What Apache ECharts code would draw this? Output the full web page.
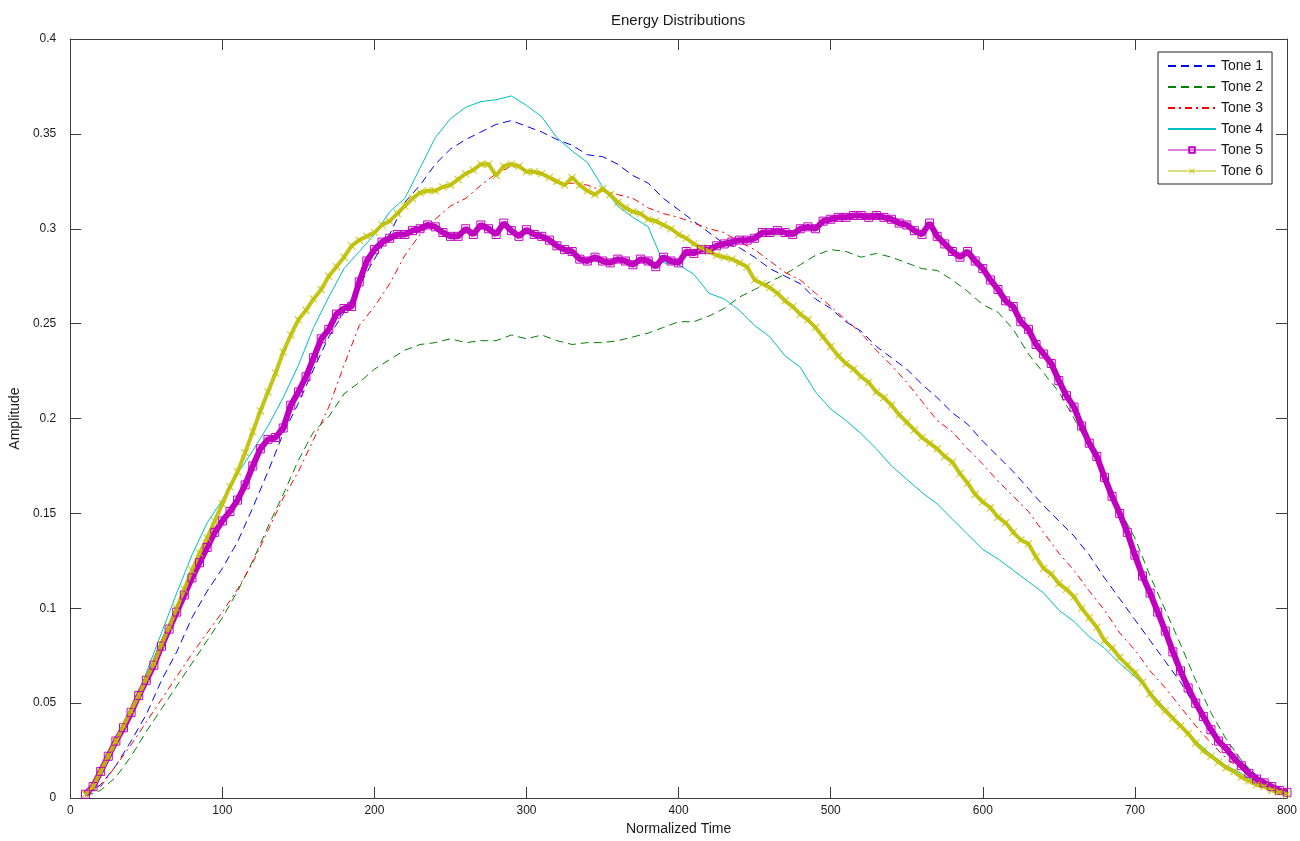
<!DOCTYPE html>
<html>
<head>
<meta charset="utf-8">
<title>Energy Distributions</title>
<script src="https://cdn.jsdelivr.net/npm/echarts@6/dist/echarts.min.js"></script>
<style>
  html, body { margin: 0; padding: 0; background: #ffffff; }
  #chart { width: 1300px; height: 841px; }
</style>
</head>
<body>
<div id="chart"></div>
<script>
// ---- data -------------------------------------------------------------
const seriesNames = ['Tone 1', 'Tone 2', 'Tone 3', 'Tone 4', 'Tone 5', 'Tone 6'];

// sample positions (normalized time): smooth tones every 10, marked tones every 5
const timeCoarse = [];
for (let t = 10; t <= 800; t += 10) timeCoarse.push(t);
const timeFine = [];
for (let t = 10; t <= 800; t += 5) timeFine.push(t);

// Tones 1-4 at timeCoarse
const tone1 = [
  0.002, 0.007, 0.017, 0.030, 0.044, 0.062, 0.077, 0.095, 0.109, 0.121,
  0.135, 0.153, 0.172, 0.192, 0.208, 0.226, 0.243, 0.256, 0.270, 0.284,
  0.297, 0.314, 0.323, 0.334, 0.342, 0.347, 0.351, 0.355, 0.357, 0.354,
  0.351, 0.347, 0.344, 0.339, 0.338, 0.334, 0.328, 0.324, 0.316, 0.310,
  0.304, 0.298, 0.292, 0.290, 0.285, 0.279, 0.275, 0.271, 0.263, 0.258,
  0.251, 0.246, 0.238, 0.232, 0.226, 0.218, 0.211, 0.203, 0.197, 0.188,
  0.180, 0.172, 0.163, 0.154, 0.146, 0.138, 0.128, 0.116, 0.105, 0.094,
  0.083, 0.072, 0.061, 0.048, 0.036, 0.027, 0.019, 0.012, 0.007, 0.003
];
const tone2 = [
  0.001, 0.004, 0.011, 0.022, 0.035, 0.047, 0.059, 0.071, 0.083, 0.095,
  0.109, 0.125, 0.143, 0.160, 0.178, 0.193, 0.201, 0.213, 0.219, 0.226,
  0.231, 0.236, 0.239, 0.240, 0.242, 0.240, 0.241, 0.241, 0.244, 0.242,
  0.244, 0.241, 0.239, 0.240, 0.240, 0.241, 0.243, 0.245, 0.248, 0.251,
  0.251, 0.254, 0.258, 0.264, 0.268, 0.272, 0.276, 0.281, 0.286, 0.289,
  0.288, 0.285, 0.287, 0.285, 0.282, 0.279, 0.278, 0.273, 0.267, 0.260,
  0.256, 0.247, 0.234, 0.224, 0.214, 0.200, 0.185, 0.169, 0.152, 0.137,
  0.117, 0.099, 0.081, 0.062, 0.045, 0.031, 0.020, 0.011, 0.006, 0.003
];
const tone3 = [
  0.001, 0.006, 0.017, 0.028, 0.040, 0.052, 0.064, 0.076, 0.087, 0.098,
  0.110, 0.124, 0.141, 0.158, 0.172, 0.189, 0.206, 0.228, 0.249, 0.259,
  0.271, 0.286, 0.297, 0.305, 0.312, 0.316, 0.323, 0.329, 0.333, 0.331,
  0.329, 0.324, 0.324, 0.323, 0.320, 0.318, 0.316, 0.311, 0.308, 0.306,
  0.303, 0.300, 0.298, 0.293, 0.289, 0.283, 0.277, 0.273, 0.266, 0.259,
  0.252, 0.245, 0.236, 0.228, 0.219, 0.209, 0.199, 0.193, 0.184, 0.176,
  0.167, 0.159, 0.151, 0.140, 0.129, 0.120, 0.109, 0.099, 0.087, 0.078,
  0.067, 0.058, 0.048, 0.038, 0.029, 0.021, 0.015, 0.009, 0.005, 0.003
];
const tone4 = [
  0.002, 0.012, 0.027, 0.045, 0.066, 0.087, 0.108, 0.128, 0.145, 0.157,
  0.171, 0.183, 0.196, 0.211, 0.228, 0.248, 0.264, 0.279, 0.288, 0.297,
  0.309, 0.316, 0.332, 0.348, 0.358, 0.364, 0.367, 0.368, 0.370, 0.365,
  0.359, 0.348, 0.341, 0.335, 0.322, 0.312, 0.306, 0.301, 0.282, 0.281,
  0.276, 0.266, 0.263, 0.257, 0.249, 0.243, 0.233, 0.227, 0.214, 0.205,
  0.199, 0.192, 0.184, 0.175, 0.168, 0.161, 0.155, 0.147, 0.139, 0.131,
  0.126, 0.120, 0.114, 0.108, 0.099, 0.093, 0.085, 0.079, 0.071, 0.064,
  0.056, 0.047, 0.038, 0.030, 0.023, 0.017, 0.013, 0.008, 0.005, 0.003
];

// Tones 5-6 at timeFine
const tone5 = [
  0.002, 0.006, 0.014, 0.022, 0.030, 0.037, 0.045, 0.054, 0.062, 0.070,
  0.080, 0.089, 0.098, 0.107, 0.116, 0.124, 0.132, 0.140, 0.146, 0.151,
  0.157, 0.165, 0.175, 0.184, 0.189, 0.190, 0.195, 0.207, 0.214, 0.222,
  0.232, 0.242, 0.247, 0.255, 0.258, 0.259, 0.272, 0.283, 0.289, 0.293,
  0.295, 0.297, 0.297, 0.299, 0.300, 0.302, 0.301, 0.298, 0.296, 0.296,
  0.300, 0.297, 0.302, 0.300, 0.297, 0.303, 0.299, 0.296, 0.2995, 0.297,
  0.296, 0.294, 0.291, 0.289, 0.288, 0.284, 0.283, 0.285, 0.283, 0.282,
  0.284, 0.283, 0.281, 0.284, 0.283, 0.280, 0.285, 0.283, 0.282, 0.288,
  0.287, 0.289, 0.289, 0.291, 0.292, 0.293, 0.294, 0.294, 0.295, 0.298,
  0.298, 0.299, 0.298, 0.297, 0.300, 0.301, 0.300, 0.304, 0.305, 0.306,
  0.306, 0.307, 0.307, 0.306, 0.307, 0.306, 0.305, 0.303, 0.302, 0.299,
  0.297, 0.303, 0.296, 0.292, 0.288, 0.285, 0.288, 0.283, 0.279, 0.273,
  0.268, 0.262, 0.259, 0.251, 0.247, 0.239, 0.234, 0.229, 0.220, 0.212,
  0.206, 0.196, 0.187, 0.180, 0.169, 0.159, 0.150, 0.140, 0.128, 0.117,
  0.108, 0.098, 0.088, 0.077, 0.067, 0.058, 0.050, 0.043, 0.036, 0.030,
  0.026, 0.021, 0.017, 0.013, 0.010, 0.008, 0.006, 0.004, 0.003
];
const tone6 = [
  0.002, 0.006, 0.014, 0.022, 0.030, 0.038, 0.046, 0.054, 0.063, 0.071,
  0.081, 0.090, 0.100, 0.110, 0.120, 0.129, 0.137, 0.146, 0.155, 0.164,
  0.172, 0.182, 0.193, 0.204, 0.214, 0.224, 0.235, 0.244, 0.252, 0.257,
  0.263, 0.268, 0.275, 0.280, 0.285, 0.291, 0.294, 0.296, 0.298, 0.302,
  0.304, 0.308, 0.312, 0.316, 0.319, 0.320, 0.320, 0.322, 0.323, 0.326,
  0.329, 0.331, 0.334, 0.334, 0.328, 0.333, 0.334, 0.333, 0.330, 0.330,
  0.329, 0.327, 0.325, 0.323, 0.327, 0.323, 0.320, 0.318, 0.321, 0.318,
  0.314, 0.311, 0.309, 0.308, 0.305, 0.304, 0.302, 0.300, 0.297, 0.295,
  0.292, 0.290, 0.288, 0.286, 0.285, 0.284, 0.282, 0.280, 0.273, 0.271,
  0.269, 0.266, 0.262, 0.259, 0.255, 0.252, 0.248, 0.243, 0.238, 0.233,
  0.229, 0.226, 0.222, 0.219, 0.214, 0.211, 0.207, 0.202, 0.198, 0.194,
  0.190, 0.187, 0.184, 0.180, 0.177, 0.171, 0.166, 0.160, 0.156, 0.153,
  0.148, 0.145, 0.140, 0.136, 0.134, 0.127, 0.121, 0.118, 0.113, 0.110,
  0.106, 0.100, 0.095, 0.090, 0.083, 0.079, 0.074, 0.070, 0.066, 0.061,
  0.055, 0.050, 0.046, 0.042, 0.038, 0.034, 0.029, 0.025, 0.022, 0.019,
  0.016, 0.014, 0.011, 0.009, 0.007, 0.006, 0.004, 0.003, 0.002
];

// axis ranges / ticks
const xMin = 0, xMax = 800, xStep = 100;
const yMin = 0, yMax = 0.4, yStep = 0.05;

// ---- styling ----------------------------------------------------------
const FONT = '"Liberation Sans", Arial, Helvetica, sans-serif';
const TEXT = '#1a1a1a';
const AXIS = '#3c3c3c';
const colors = ['#0000ff', '#008000', '#ff0000', '#00bfbf', '#bf00bf', '#bfbf00'];
const crossMark = 'path://M0,1L1,0L5,4L9,0L10,1L6,5L10,9L9,10L5,6L1,10L0,9L4,5Z';

function pairs(xs, ys) { return xs.map((x, i) => [x, ys[i]]); }

// one side of the surrounding box: line + inward ticks, no labels
const boxAxis = (extra) => Object.assign({
  type: 'value',
  axisLine: { show: true, onZero: false, lineStyle: { color: AXIS, width: 1 } },
  axisTick: { show: true, inside: true, length: 11, lineStyle: { color: AXIS } },
  splitLine: { show: false },
  axisLabel: { show: false }
}, extra);

const plainLine = (idx, xs, ys, dash) => ({
  name: seriesNames[idx], type: 'line', xAxisIndex: 0, yAxisIndex: 0,
  data: pairs(xs, ys), symbol: 'none', smooth: false, silent: true,
  lineStyle: { color: colors[idx], width: 1, type: dash },
  itemStyle: { color: colors[idx] }
});

const option = {
  animation: false,
  backgroundColor: '#ffffff',
  color: colors,
  grid: { left: 70, right: 13, top: 39, bottom: 42, containLabel: false },
  xAxis: [
    boxAxis({
      position: 'bottom', min: xMin, max: xMax, interval: xStep,
      axisLabel: { show: true, margin: 7, color: TEXT, fontFamily: FONT, fontSize: 12 },
      name: 'Normalized Time', nameLocation: 'middle', nameGap: 24,
      nameTextStyle: { color: TEXT, fontFamily: FONT, fontSize: 14 }
    }),
    boxAxis({ position: 'top', min: xMin, max: xMax, interval: xStep })
  ],
  yAxis: [
    boxAxis({
      position: 'left', min: yMin, max: yMax, interval: yStep,
      axisLabel: {
        show: true, margin: 14, color: TEXT, fontFamily: FONT, fontSize: 12,
        formatter: v => String(Math.round(v * 100) / 100)
      },
      name: 'Amplitude', nameLocation: 'middle', nameGap: 40, nameRotate: 90,
      nameTextStyle: { color: TEXT, fontFamily: FONT, fontSize: 14 }
    }),
    boxAxis({ position: 'right', min: yMin, max: yMax, interval: yStep })
  ],
  legend: {
    orient: 'vertical', left: 1158, top: 52,
    backgroundColor: '#ffffff', borderColor: '#222222', borderWidth: 1, borderRadius: 0,
    padding: [7, 9, 6, 9],
    itemWidth: 48, itemHeight: 7, itemGap: 7,
    textStyle: { color: TEXT, fontFamily: FONT, fontSize: 14 },
    selectedMode: false,
    data: [
      { name: 'Tone 1', itemStyle: { opacity: 0 } },
      { name: 'Tone 2', itemStyle: { opacity: 0 } },
      { name: 'Tone 3', itemStyle: { opacity: 0 } },
      { name: 'Tone 4', itemStyle: { opacity: 0 } },
      { name: 'Tone 5', lineStyle: { width: 1 } },
      { name: 'Tone 6', lineStyle: { width: 1, opacity: 1 }, itemStyle: { opacity: 1 } }
    ]
  },
  graphic: [{
    type: 'text', left: 611, top: 13,
    style: { text: 'Energy Distributions', fill: TEXT, font: '15px ' + FONT }
  }],
  series: [
    plainLine(0, timeCoarse, tone1, [8, 5]),
    plainLine(1, timeCoarse, tone2, [8, 5]),
    plainLine(2, timeCoarse, tone3, [7, 4, 2, 4]),
    plainLine(3, timeCoarse, tone4, 'solid'),
    {
      name: seriesNames[4], type: 'line', data: pairs(timeFine, tone5), silent: true,
      symbol: 'rect', symbolSize: 8, showSymbol: true,
      lineStyle: { color: colors[4], width: 6 },
      itemStyle: { color: 'rgba(255,255,255,0)', borderColor: colors[4], borderWidth: 1 }
    },
    {
      name: seriesNames[5], type: 'line', data: pairs(timeFine, tone6), silent: true,
      symbol: crossMark, symbolSize: 8, showSymbol: true,
      lineStyle: { color: colors[5], width: 4, opacity: 0.9 },
      itemStyle: { color: colors[5], opacity: 0.8 }
    }
  ]
};

const chart = echarts.init(document.getElementById('chart'), null, { renderer: 'canvas' });
chart.setOption(option);
</script>
</body>
</html>
